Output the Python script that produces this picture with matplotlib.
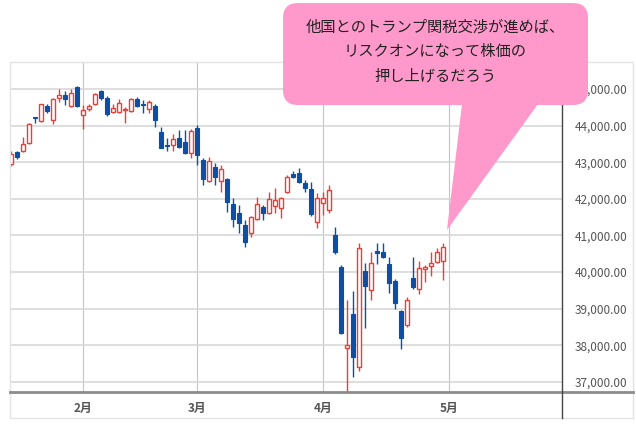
import matplotlib
matplotlib.use("Agg")
import matplotlib.pyplot as plt
from matplotlib.patches import Rectangle, FancyBboxPatch, Polygon
import numpy as np

plt.rcParams['font.family'] = ['Noto Sans CJK JP', 'DejaVu Sans']

# daily candles, Jan 15 - Apr 30
dates = ['01-15', '01-16', '01-17', '01-21', '01-22', '01-23', '01-24', '01-27', '01-28', '01-29',
         '01-30', '01-31',
         '02-03', '02-04', '02-05', '02-06', '02-07', '02-10', '02-11', '02-12', '02-13', '02-14',
         '02-18', '02-19', '02-20', '02-21', '02-24', '02-25', '02-26', '02-27', '02-28',
         '03-03', '03-04', '03-05', '03-06', '03-07', '03-10', '03-11', '03-12', '03-13', '03-14',
         '03-17', '03-18', '03-19', '03-20', '03-21', '03-24', '03-25', '03-26', '03-27', '03-28',
         '03-31',
         '04-01', '04-02', '04-03', '04-04', '04-07', '04-08', '04-09', '04-10', '04-11', '04-14',
         '04-15', '04-16', '04-17', '04-21', '04-22', '04-23', '04-24', '04-25', '04-28', '04-29',
         '04-30']
opens = [42950, 43280, 43310, 43520, 44230, 44125, 44535, 44150, 44750, 44840,
         44535, 45050,
         44290, 44450, 44590, 44940, 44760, 44370, 44370, 44430, 44400, 44730,
         44600, 44450, 44535, 43830, 43480, 43470, 43660, 43550, 43250,
         43930, 43060, 42490, 42870, 42490, 42540, 41860, 41610, 41280, 41070,
         41450, 41780, 41610, 41800, 41750, 42190, 42680, 42700, 42430, 42270,
         41370,
         41890, 41700, 41000, 40140, 37920, 38850, 37400, 40030, 39510, 40570,
         40550, 40220, 39750, 38930, 38550, 39840, 39540, 40080, 40160, 40270,
         40300]
highs = [43300, 43300, 43690, 44060, 44240, 44600, 44600, 44750, 45000, 44950,
         45000, 45080,
         44560, 44600, 44900, 44980, 44800, 44600, 44720, 44500, 44760, 44780,
         44710, 44700, 44600, 43960, 43660, 43780, 43880, 43880, 43900,
         44030, 43110, 43140, 42980, 42920, 42560, 42020, 41830, 41420, 41520,
         42050, 41830, 42190, 42300, 42050, 42650, 42750, 42840, 42510, 42450,
         42160,
         42190, 42380, 41230, 40200, 39230, 39480, 40780, 40250, 40550, 40800,
         40800, 40410, 39800, 38960, 39330, 40400, 40300, 40190, 40550, 40660,
         40800]
lows = [42900, 43080, 43290, 43500, 44080, 44100, 44340, 44045, 44650, 44550,
        44500, 44500,
        43900, 44400, 44550, 44700, 44250, 44345, 44340, 44080, 44380, 44500,
        44350, 44340, 43960, 43380, 43300, 43300, 43380, 43230, 43115,
        42930, 42380, 42450, 42380, 42190, 41640, 41230, 41070, 40680, 40960,
        41420, 41420, 41580, 41610, 41480, 42160, 42560, 42430, 42190, 41540,
        41200,
        41560, 41610, 40500, 38300, 36600, 37130, 37300, 38470, 39240, 40220,
        40380, 39430, 39000, 37900, 38500, 39540, 39400, 39730, 39880, 40250,
        39780]
closes = [43220, 43140, 43500, 44040, 44200, 44590, 44400, 44730, 44840, 44730,
          44890, 44535,
          44430, 44540, 44860, 44750, 44320, 44480, 44620, 44450, 44730, 44535,
          44570, 44640, 44150, 43400, 43440, 43630, 43415, 43250, 43850,
          43200, 42540, 43030, 42600, 42810, 41910, 41450, 41340, 40820, 41500,
          41860, 41610, 42000, 41970, 42020, 42600, 42600, 42460, 42300, 41590,
          42020,
          42020, 42240, 40550, 38330, 38000, 37680, 40650, 39620, 40250, 40530,
          40410, 39700, 39150, 38200, 39230, 39590, 40110, 40140, 40250, 40550,
          40680]

month_labels = ['2月', '3月', '4月', '5月']
y_ticks = [37000, 38000, 39000, 40000, 41000, 42000, 43000, 44000, 45000]
callout_lines = ['他国とのトランプ関税交渉が進めば、', 'リスクオンになって株価の', '押し上げるだろう']

up_color = '#e5403a'
down_color = '#0f4fa3'
grid_color = '#d4d4d4'

W, H = 636, 426
fig = plt.figure(figsize=(W / 100, H / 100), dpi=100)
fig.patch.set_facecolor('white')

# main chart area in pixels: x 10..562, y 62..392
L, R, T, B = 10, 562, 62, 392
ax = fig.add_axes([L / W, 1 - B / H, (R - L) / W, (B - T) / H])

idx = np.arange(len(dates))
body_w = 0.72
for i in idx:
    o, h, l, c = opens[i], highs[i], lows[i], closes[i]
    up = c >= o
    col = up_color if up else down_color
    ax.plot([i, i], [l, h], color=col, lw=1.0, zorder=2, solid_capstyle='butt')
    lo, hi = min(o, c), max(o, c)
    if hi - lo < 25:
        hi = lo + 25
    if up:
        ax.add_patch(Rectangle((i - body_w / 2, lo), body_w, hi - lo,
                               facecolor='white', edgecolor=col, lw=1.0, zorder=3))
    else:
        ax.add_patch(Rectangle((i - body_w / 2, lo), body_w, hi - lo,
                               facecolor=col, edgecolor=col, lw=0.8, zorder=3))

# month gridlines at first trading day of each month (May = next slot)
month_pos = []
for i in range(1, len(dates)):
    if dates[i][:2] != dates[i - 1][:2]:
        month_pos.append(i)
month_pos.append(len(dates))

ax.set_xlim(-0.17, 91.83)
ax.set_ylim(36721, 45738)
ax.set_xticks(month_pos)
ax.set_xticklabels(month_labels, fontsize=8.5, fontweight='bold', color='#555555')
ax.tick_params(axis='x', length=0, pad=7)
for p in month_pos:
    ax.axvline(p, color='#c4c4c4', lw=0.8, zorder=1)

ax.yaxis.tick_right()
ax.set_yticks(y_ticks)
ax.set_yticklabels([f'{v:,.2f}' for v in y_ticks], fontsize=8.5, color='#555555')
ax.tick_params(axis='y', length=0, pad=9)
for v in y_ticks:
    ax.axhline(v, color=grid_color, lw=1.1, zorder=1)

for s in ax.spines.values():
    s.set_visible(False)

# overlay in pixel coordinates for frame and callout
ov = fig.add_axes([0, 0, 1, 1], zorder=10)
ov.set_xlim(0, W)
ov.set_ylim(H, 0)
ov.axis('off')
ov.patch.set_alpha(0)

ov.add_patch(Rectangle((L, T), 633 - L, 418 - T, fill=False, edgecolor='#e4e4e4', lw=1.0, zorder=1))
ov.plot([L, 633], [B, B], color='#8c8c8c', lw=2.0, zorder=2)
ov.plot([R, R], [T, 418], color='#444444', lw=1.0, zorder=2)

pink = '#ff99cc'
ov.add_patch(Polygon([(462, 104), (538, 104), (447, 230)], closed=True,
                     facecolor=pink, edgecolor='none', zorder=5))
ov.add_patch(FancyBboxPatch((283 + 15, 3 + 15), 305 - 30, 102 - 30,
                            boxstyle='round,pad=15,rounding_size=15',
                            facecolor=pink, edgecolor='none', zorder=5))
for k, line in enumerate(callout_lines):
    ov.text(435, 27 + 24.5 * k, line, ha='center', va='center',
            fontsize=11, color='#222222', zorder=6)

fig.savefig('out.png', dpi=100)
